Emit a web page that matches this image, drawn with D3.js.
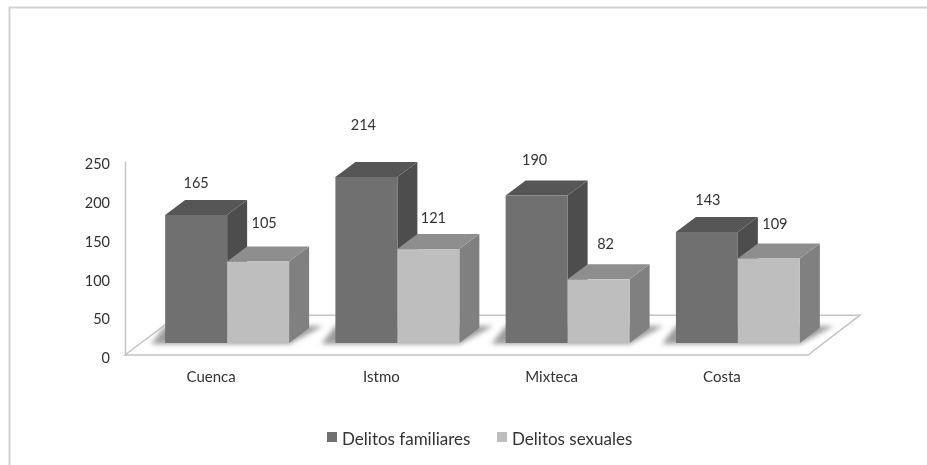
<!DOCTYPE html>
<html><head><meta charset="utf-8">
<script src="https://cdn.jsdelivr.net/npm/d3@7"></script>
<style>html,body{margin:0;background:#fff}svg{display:block}text{font-family:Lato,"Open Sans",sans-serif;fill:#333}</style>
</head><body><svg id="c" width="927" height="465"></svg>
<script>
const categories=["Cuenca","Istmo","Mixteca","Costa"];
const seriesNames=["Delitos familiares","Delitos sexuales"];
const familiares=[165,214,190,143];
const sexuales=[105,121,82,109];
const yTicks=[0,50,100,150,200,250];
const series=[familiares,sexuales];

const svg=d3.select("#c");
const defs=svg.append("defs");
defs.append("filter").attr("id","soft").attr("filterUnits","userSpaceOnUse").attr("x",-10).attr("y",-10).attr("width",960).attr("height",490)
  .append("feGaussianBlur").attr("stdDeviation",0.55);
defs.append("filter").attr("id","shadow").attr("x","-20%").attr("y","-60%").attr("width","140%").attr("height","220%")
  .append("feGaussianBlur").attr("stdDeviation",2.6);
const root=svg.append("g").attr("filter","url(#soft)");

root.append("path").attr("d","M9.5,470V7.5H935").attr("fill","none").attr("stroke","#d2d2d2").attr("stroke-width",2);

const y=d3.scaleLinear().domain([0,250]).range([355,161]);
const x0=d3.scaleBand().domain(categories).range([142,823]).paddingInner(.272).paddingOuter(.136);
const x1=d3.scaleBand().domain(d3.range(2)).range([0,x0.bandwidth()]);
const base=12, dx=20, dy=15;
const fronts=["#6f6f6f","#bebebe"],tops=["#565656","#8e8e8e"],sides=["#4e4e4e","#808080"];

// floor
root.append("path").attr("d",`M125,${y(0)}L808,${y(0)}L860,${y(50)-1}L178,${y(50)-1}Z`)
  .attr("fill","#fff").attr("stroke","#c4c4c4").attr("stroke-width",1.5);

// y axis
const ya=root.append("g").attr("transform","translate(125,0)")
  .call(d3.axisLeft(y).tickValues(yTicks).tickSize(0).tickPadding(15));
ya.select(".domain").attr("stroke","#c4c4c4").attr("stroke-width",1.5);
ya.selectAll("text").style("font-size","14.5px").attr("transform","translate(0,3)");

// shadows
categories.forEach(c=>{
  const l=x0(c), r=l+x0.bandwidth(), b=y(0)-base;
  root.append("path").attr("d",`M${l-14},${b+1}L${r},${b+1}L${r+dx+14},${b-dy-2}L${l},${b-dy-2}Z`)
    .attr("fill","#9c9c9c").attr("filter","url(#shadow)");
});

// bars
const bars=root.append("g");
categories.forEach((c,i)=>{
  series.forEach((vals,s)=>{
    const l=x0(c)+x1(s), w=x1.bandwidth(), b=y(0)-base, t=y(vals[i])-base;
    const g=bars.append("g");
    g.append("path").attr("d",`M${l+w},${t}L${l+w+dx},${t-dy}L${l+w+dx},${b-dy}L${l+w},${b}Z`).attr("fill",sides[s]);
    g.append("path").attr("d",`M${l},${t}L${l+dx},${t-dy}L${l+w+dx},${t-dy}L${l+w},${t}Z`).attr("fill",tops[s]);
    g.append("rect").attr("x",l).attr("y",t).attr("width",w).attr("height",b-t).attr("fill",fronts[s]);
  });
});

// value labels (nudges follow the source's hand-placed labels)
const labelNudge=[[[0,-32],[6,-39]],[[-3,-52],[5,-31]],[[-2,-36],[7,-35]],[[1,-32],[6,-34]]];
categories.forEach((c,i)=>series.forEach((vals,s)=>{
  root.append("text").attr("x",x0(c)+x1(s)+x1.bandwidth()/2+labelNudge[i][s][0])
    .attr("y",y(vals[i])-base+labelNudge[i][s][1]).attr("dy","0.35em")
    .attr("text-anchor","middle").style("font-size","14.5px").text(vals[i]);
}));

// category labels
const xa=root.append("g").attr("transform","translate(-16,377)")
  .call(d3.axisBottom(x0).tickSize(0).tickPadding(0));
xa.select(".domain").remove();
xa.selectAll("text").style("font-size","15px").attr("dy","0.35em").attr("y",0);

// legend
const lx=[327,497], tx=[342,512];
seriesNames.forEach((n,i)=>{
  root.append("rect").attr("x",lx[i]).attr("y",432).attr("width",10).attr("height",10).attr("fill",i?"#bebebe":"#6f6f6f");
  root.append("text").attr("x",tx[i]).attr("y",439).attr("dy","0.35em").style("font-size","17px").text(n);
});
</script></body></html>
